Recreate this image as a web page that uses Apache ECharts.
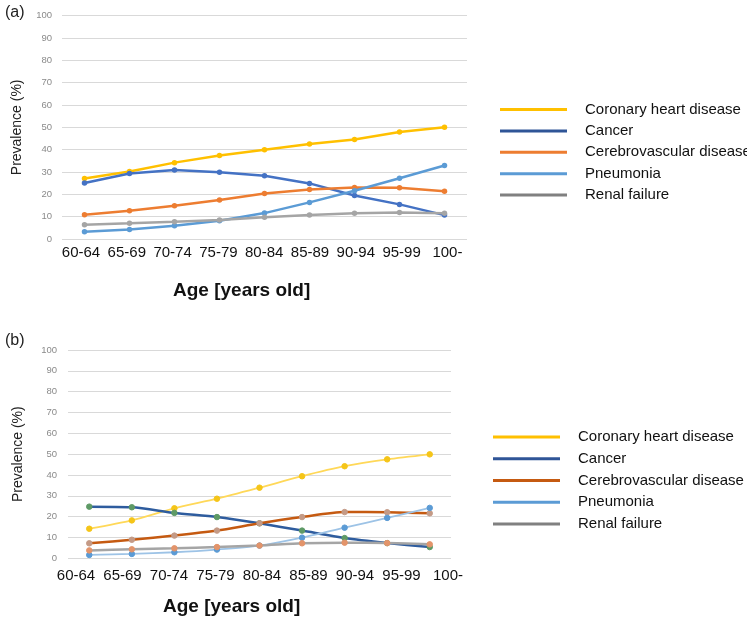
<!DOCTYPE html>
<html>
<head>
<meta charset="utf-8">
<script src="https://cdn.jsdelivr.net/npm/echarts@6/dist/echarts.min.js"></script>
<style>
html,body{margin:0;padding:0;background:#fff;}
#chart{width:747px;height:618px;}
</style>
</head>
<body>
<div id="chart"></div>
<script>
const categories = ['60-64','65-69','70-74','75-79','80-84','85-89','90-94','95-99','100-'];
const yTicks = [0,10,20,30,40,50,60,70,80,90,100];
const seriesNames = ['Coronary heart disease','Cancer','Cerebrovascular disease','Pneumonia','Renal failure'];

// Panel (a)
const chdA    = [27.1, 30.2, 34.2, 37.4, 40.0, 42.5, 44.6, 47.9, 50.0];
const cancerA = [25.1, 29.3, 30.9, 29.9, 28.3, 24.9, 19.5, 15.5, 10.7];
const cerebA  = [10.9, 12.6, 14.9, 17.5, 20.4, 22.2, 23.1, 22.9, 21.4];
const pneuA   = [3.3, 4.3, 5.9, 8.2, 11.6, 16.4, 21.6, 27.2, 32.9];
const renalA  = [6.4, 7.0, 7.7, 8.5, 9.7, 10.7, 11.5, 11.9, 11.5];

// Panel (b)
const chdB    = [14.2, 18.2, 24.0, 28.6, 33.9, 39.4, 44.2, 47.5, 49.9];
const cancerB = [24.8, 24.5, 21.8, 19.8, 16.8, 13.3, 9.7, 7.3, 5.4];
const cerebB  = [7.2, 8.9, 10.9, 13.3, 16.8, 19.8, 22.2, 22.1, 21.6];
const pneuB   = [1.6, 2.1, 2.9, 4.2, 6.1, 9.9, 14.7, 19.4, 24.2];
const renalB  = [3.8, 4.3, 4.8, 5.4, 6.1, 7.2, 7.5, 7.3, 6.7];

const FONT = 'Liberation Sans, Arial, sans-serif';
const chart = echarts.init(document.getElementById('chart'), null, {renderer:'canvas'});

const dataA = [chdA, cancerA, cerebA, pneuA, renalA];
const dataB = [chdB, cancerB, cerebB, pneuB, renalB];
const lineColA = ['#FFC000','#4472C4','#ED7D31','#5B9BD5','#A5A5A5'];
const dotColA  = ['#FFC000','#4472C4','#ED7D31','#5B9BD5','#A5A5A5'];
const lineColB = ['#FFD858','#2E5C9E','#C55A11','#9DC3E6','#A5A5A5'];
const dotColB  = ['#F5C518','#5E9A66','#C49A86','#5B9BD5','#E3946A'];
const widthB   = [1.8, 2.5, 2.5, 1.8, 2.5];
const legColA  = ['#FFC000','#2F5597','#ED7D31','#5B9BD5','#808080'];
const legColB  = ['#FFC000','#2F5597','#C55A11','#5B9BD5','#808080'];

const series = [];
seriesNames.forEach((n,i)=>{
  series.push({
    name:n, type:'line', xAxisIndex:0, yAxisIndex:0, data:dataA[i],
    symbol:'circle', symbolSize:5.5, showSymbol:true,
    lineStyle:{color:lineColA[i], width:2.5},
    itemStyle:{color:dotColA[i]},
    emphasis:{disabled:true}, z:2+i
  });
});
seriesNames.forEach((n,i)=>{
  series.push({
    name:n, type:'line', xAxisIndex:2, yAxisIndex:2, data:dataB[i],
    symbol:'circle', symbolSize:5.5, showSymbol:true, smooth:0.25,
    lineStyle:{color:lineColB[i], width:widthB[i]},
    itemStyle:{color:dotColB[i], borderColor:dotColB[i]},
    emphasis:{disabled:true}, z:2+i
  });
});

function yAxisCfg(grid, nameGap, show){
  return {
    type:'value', gridIndex:grid, min:0, max:100, interval:10, show:show,
    axisLine:{show:false}, axisTick:{show:false},
    axisLabel:{show:show, color:'#8a8a8a', fontSize:9.5, fontFamily:FONT, margin: grid===0?10:11,
      formatter:(v)=> yTicks.includes(v) ? String(v) : ''},
    splitLine:{show:show, lineStyle:{color:'#d9d9d9', width:1}},
    name: show ? 'Prevalence (%)' : '', nameLocation:'middle', nameGap:nameGap, nameRotate:90,
    nameTextStyle:{fontSize:14, color:'#222', fontFamily:FONT}
  };
}

const option = {
  backgroundColor:'#fff',
  animation:false,
  title:[
    {text:'(a)', left:0, top:0, textStyle:{fontSize:16, fontWeight:'normal', color:'#222', fontFamily:FONT}},
    {text:'(b)', left:0, top:328, textStyle:{fontSize:16, fontWeight:'normal', color:'#222', fontFamily:FONT}},
    {text:'Age [years old]', left:168, top:276, textStyle:{fontSize:19, fontWeight:'bold', color:'#111', fontFamily:FONT}},
    {text:'Age [years old]', left:158, top:592, textStyle:{fontSize:19, fontWeight:'bold', color:'#111', fontFamily:FONT}}
  ],
  grid:[
    {left:62, right:280, top:15.7, bottom:379},
    {left:58.1, right:276.7, top:15.7, bottom:379},
    {left:68, right:296, top:350, bottom:59.7},
    {left:52.75, right:275.75, top:350, bottom:59.7}
  ],
  xAxis:[
    {type:'category', gridIndex:0, data:categories, boundaryGap:true,
     axisLine:{show:false}, axisTick:{show:false}, axisLabel:{show:false}},
    {type:'category', gridIndex:1, data:categories, boundaryGap:true,
     axisLine:{show:false}, axisTick:{show:false},
     axisLabel:{show:true, color:'#111', fontSize:15, fontFamily:FONT, margin:6.5, interval:0}},
    {type:'category', gridIndex:2, data:categories, boundaryGap:true,
     axisLine:{show:false}, axisTick:{show:false}, axisLabel:{show:false}},
    {type:'category', gridIndex:3, data:categories, boundaryGap:true,
     axisLine:{show:false}, axisTick:{show:false},
     axisLabel:{show:true, color:'#111', fontSize:15, fontFamily:FONT, margin:10.5, interval:0}}
  ],
  yAxis:[
    yAxisCfg(0, 38, true),
    yAxisCfg(1, 0, false),
    yAxisCfg(2, 43, true),
    yAxisCfg(3, 0, false)
  ],
  legend:[
    {orient:'vertical', left:495, top:95.5, itemWidth:67, itemHeight:3, itemGap:3.4, icon:'rect',
     selectedMode:false,
     data: seriesNames.map((n,i)=>({name:n, itemStyle:{color:legColA[i], borderWidth:0}})),
     textStyle:{fontSize:15, color:'#111', fontFamily:FONT, lineHeight:18, padding:[0,0,0,13]}},
    {orient:'vertical', left:488, top:423, itemWidth:67, itemHeight:3, itemGap:3.75, icon:'rect',
     selectedMode:false,
     data: seriesNames.map((n,i)=>({name:n, itemStyle:{color:legColB[i], borderWidth:0}})),
     textStyle:{fontSize:15, color:'#111', fontFamily:FONT, lineHeight:18, padding:[0,0,0,13]}}
  ],
  series: series
};
chart.setOption(option);
</script>
</body>
</html>
